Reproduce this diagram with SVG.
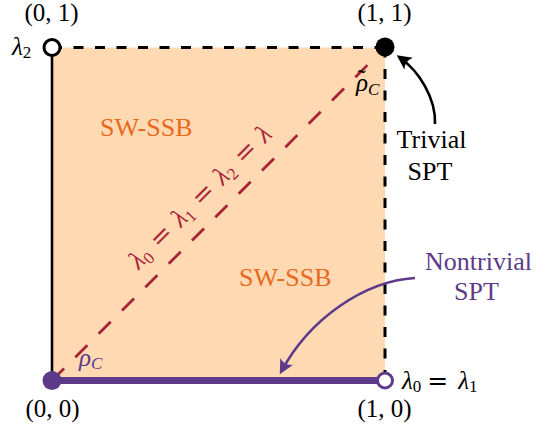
<svg xmlns="http://www.w3.org/2000/svg" width="558" height="430" viewBox="0 0 558 430" font-family="'Liberation Serif', 'Times New Roman', 'DejaVu Serif', serif">
<defs>
<style>
text{font-size:25px;fill:#000}
.it{font-style:italic}
.sub{font-size:17px}
.eq{font-family:'DejaVu Serif',serif}
.lbl{font-size:26px}
.orange{fill:#E8691E}
.purple{fill:#5D3A8A}
.red{fill:#A82339}
.black-line{stroke:#000;fill:none}
</style>
<marker id="ah-black" markerUnits="userSpaceOnUse" markerWidth="18" markerHeight="18" viewBox="-12 -8 16 16" refX="0" refY="0" orient="auto">
<path d="M3,0 L-10,-6.5 Q-5.5,0 -10,6.5 Z" fill="#000"/>
</marker>
<marker id="ah-purple" markerUnits="userSpaceOnUse" markerWidth="18" markerHeight="18" viewBox="-12 -8 16 16" refX="0" refY="0" orient="auto">
<path d="M3,0 L-10,-6.5 Q-5.5,0 -10,6.5 Z" fill="#5D3A8A"/>
</marker>
</defs>

<g id="region">
<rect x="52" y="47.5" width="333" height="333" fill="#FED9B1"/>
</g>

<g id="connectors">
<line class="black-line" x1="52" y1="47.5" x2="52" y2="380.5" stroke-width="2.6"/>
<line class="black-line" x1="52" y1="47.5" x2="385" y2="47.5" stroke-width="3" stroke-dasharray="10 11.5"/>
<line class="black-line" x1="385" y1="47.5" x2="385" y2="380.5" stroke-width="3" stroke-dasharray="10 11.5"/>
<line x1="52" y1="380.5" x2="385" y2="47.5" stroke="#A82339" stroke-width="2.8" stroke-dasharray="17 16"/>
<line x1="52" y1="380.5" x2="385" y2="380.5" stroke="#5D3A8A" stroke-width="7"/>
<path id="arrow-trivial" d="M435,124 C436,98 419,71 399.5,57.2" fill="none" stroke="#000" stroke-width="2.6" marker-end="url(#ah-black)"/>
<path id="arrow-nontrivial" d="M415,278 C365,281 310,318 281.4,371.3" fill="none" stroke="#5D3A8A" stroke-width="2.6" marker-end="url(#ah-purple)"/>
</g>

<g id="node-01">
<circle cx="52" cy="47.5" r="8" fill="#fff" stroke="#000" stroke-width="3"/>
<text x="51.5" y="21" text-anchor="middle">(0, 1)</text>
<text x="12" y="55"><tspan class="it">λ</tspan><tspan class="sub" dy="3">2</tspan></text>
</g>

<g id="node-11">
<circle cx="385" cy="47" r="9.5" fill="#000"/>
<text x="384.5" y="21" text-anchor="middle">(1, 1)</text>
<text x="356" y="91"><tspan class="it">ρ</tspan><tspan x="357.5" dy="-4">˜</tspan><tspan x="368" dy="8" class="it sub">C</tspan></text>
</g>

<g id="node-00">
<circle cx="52" cy="380.5" r="9.5" fill="#5D3A8A"/>
<text x="52.5" y="417" text-anchor="middle">(0, 0)</text>
<text x="79" y="366" class="purple"><tspan class="it">ρ</tspan><tspan x="91" dy="3" class="it sub">C</tspan></text>
</g>

<g id="node-10">
<circle cx="385" cy="380.5" r="7.5" fill="#fff" stroke="#5D3A8A" stroke-width="3"/>
<text x="384.5" y="417" text-anchor="middle">(1, 0)</text>
<text x="402" y="389"><tspan class="it">λ</tspan><tspan class="sub" dy="3">0</tspan><tspan class="eq" dy="-3" dx="6">=</tspan><tspan class="it" dx="10">λ</tspan><tspan class="sub" dy="3">1</tspan></text>
</g>

<g id="phase-labels">
<text x="100" y="136" class="lbl orange">SW-SSB</text>
<text x="239" y="286" class="lbl orange">SW-SSB</text>
<g transform="translate(206,203) rotate(-45)">
<text x="0" y="0" text-anchor="middle" class="lbl red"><tspan class="it">λ</tspan><tspan class="sub" dy="4">0</tspan><tspan class="eq" dy="-4" dx="9">=</tspan><tspan class="it" dx="9">λ</tspan><tspan class="sub" dy="4">1</tspan><tspan class="eq" dy="-4" dx="9">=</tspan><tspan class="it" dx="9">λ</tspan><tspan class="sub" dy="4">2</tspan><tspan class="eq" dy="-4" dx="9">=</tspan><tspan class="it" dx="9">λ</tspan></text>
</g>
</g>

<g id="label-trivial">
<text x="431.5" y="148" text-anchor="middle" class="lbl">Trivial</text>
<text x="430" y="180" text-anchor="middle" class="lbl">SPT</text>
</g>

<g id="label-nontrivial">
<text x="478.5" y="270" text-anchor="middle" class="lbl purple">Nontrivial</text>
<text x="476.5" y="300" text-anchor="middle" class="lbl purple">SPT</text>
</g>
</svg>
